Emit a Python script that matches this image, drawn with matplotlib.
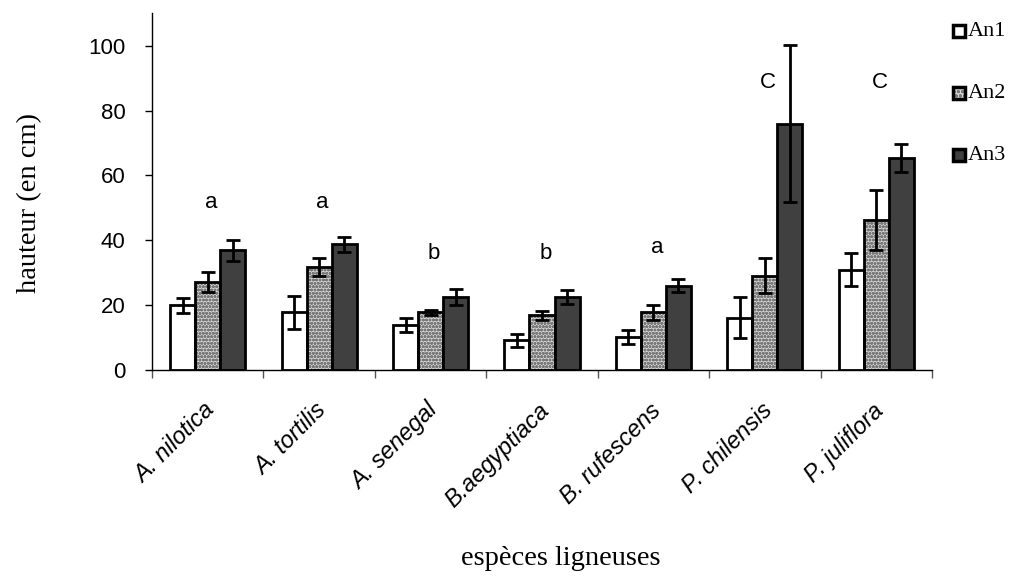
import matplotlib
matplotlib.use("Agg")
import matplotlib.pyplot as plt
import numpy as np

# Height (cm) of woody species seedlings over three years
species = ["A. nilotica", "A. tortilis", "A. senegal", "B.aegyptiaca",
           "B. rufescens", "P. chilensis", "P. juliflora"]
years = ["An1", "An2", "An3"]

an1 = [20.0, 17.8, 13.8, 9.1, 10.2, 16.1, 30.9]
an2 = [27.1, 31.8, 17.8, 16.9, 17.8, 29.1, 46.2]
an3 = [36.9, 38.8, 22.6, 22.4, 26.0, 76.0, 65.4]

err1 = [2.3, 5.1, 2.1, 2.0, 2.2, 6.3, 5.1]
err2 = [3.2, 2.8, 0.7, 1.4, 2.3, 5.3, 9.3]
err3 = [3.2, 2.3, 2.5, 2.2, 2.0, 24.3, 4.4]

letters = ["a", "a", "b", "b", "a", "C", "C"]
letter_y = [51.7, 51.7, 35.9, 35.9, 37.7, 88.8, 88.8]

serif = ["Liberation Serif", "DejaVu Serif"]
sans = ["Liberation Sans", "DejaVu Sans"]

fig = plt.figure(figsize=(10.12, 5.76), dpi=100)
ax = fig.add_axes([152 / 1012, 1 - 370 / 576, 780 / 1012, 356.7 / 576])

x = np.arange(len(species))
w = 0.2244
series = [an1, an2, an3]
errs = [err1, err2, err3]
faces = ["white", "#c4c4c4", "#404040"]

for i, (vals, e, fc) in enumerate(zip(series, errs, faces)):
    pos = x + (i - 1) * w
    if i == 1:
        # fine dotted fill, then the black outline on top
        ax.bar(pos, vals, w, color="#d8d8d8", edgecolor="#7a7a7a",
               hatch="ooooo", linewidth=0, zorder=2)
        ax.bar(pos, vals, w, color="none", edgecolor="black",
               linewidth=2, zorder=3)
    else:
        ax.bar(pos, vals, w, color=fc, edgecolor="black", linewidth=2,
               zorder=3)
    ax.errorbar(pos, vals, yerr=e, fmt="none", ecolor="black",
                elinewidth=2, capsize=5, capthick=2, zorder=4)

for xi, t, yv in zip(x, letters, letter_y):
    ax.text(xi + 0.03, yv, t, ha="center", va="center", fontsize=16,
            family=sans)

ax.set_xlim(-0.5, len(species) - 0.5)
ax.set_ylim(0, 110)
ax.set_yticks([0, 20, 40, 60, 80, 100])
ax.tick_params(axis="y", labelsize=16, length=5, width=1, direction="out",
               pad=14)
for lab in ax.get_yticklabels():
    lab.set_family(sans)

ax.set_xticks(np.arange(len(species) + 1) - 0.5)
ax.set_xticklabels([])
ax.tick_params(axis="x", length=6, width=1, direction="out", color="#555555")
for xi, name in zip(x, species):
    ax.text(xi - 0.04, -9, name, rotation=45, ha="right", va="top",
            fontsize=17, style="italic", family=sans,
            rotation_mode="anchor", transform=ax.transData)

for s in ["top", "right"]:
    ax.spines[s].set_visible(False)
ax.spines["left"].set_linewidth(1)
ax.spines["bottom"].set_linewidth(1)

fig.text(30 / 1012, 1 - 203 / 576, "hauteur (en cm)", rotation=90,
         ha="center", va="center", fontsize=20.5, family=serif)
fig.text(561 / 1012, 1 - 565 / 576, "espèces ligneuses", ha="center",
         va="baseline", fontsize=20.5, family=serif)

# legend: small outlined squares with serif labels
leg_y = [31, 93, 155]
for yy, lab, fc, i in zip(leg_y, years, faces, range(3)):
    sq = fig.add_axes([953 / 1012, 1 - (yy + 6) / 576, 12 / 1012, 12 / 576])
    sq.set_xlim(0, 1)
    sq.set_ylim(0, 1)
    sq.axis("off")
    if i == 1:
        sq.add_patch(plt.Rectangle((0, 0), 1, 1, facecolor="#d8d8d8",
                                   edgecolor="#7a7a7a", hatch="oooo",
                                   linewidth=0))
        sq.add_patch(plt.Rectangle((0, 0), 1, 1, facecolor="none",
                                   edgecolor="black", linewidth=2.5,
                                   clip_on=False))
    else:
        sq.add_patch(plt.Rectangle((0, 0), 1, 1, facecolor=fc,
                                   edgecolor="black", linewidth=2.5,
                                   clip_on=False))
    fig.text(968 / 1012, 1 - yy / 576, lab, ha="left", va="center",
             fontsize=16, family=serif)

fig.savefig("out.png", dpi=100)
